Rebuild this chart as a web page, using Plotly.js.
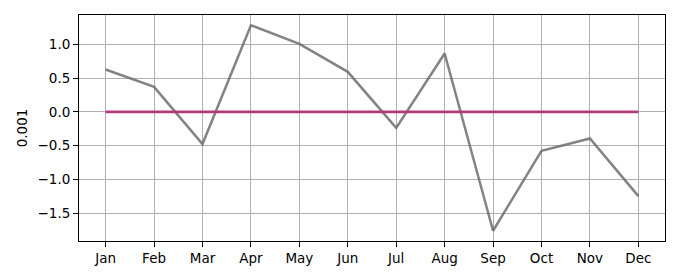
<!DOCTYPE html>
<html>
<head>
<meta charset="utf-8">
<script src="https://cdn.plot.ly/plotly-3.0.1.min.js"></script>
<style>html,body{margin:0;padding:0;background:#fff;}#chart{width:680px;height:280px;}</style>
</head>
<body>
<div id="chart"></div>
<script>
const months = ["Jan","Feb","Mar","Apr","May","Jun","Jul","Aug","Sep","Oct","Nov","Dec"];
const values = [0.628, 0.370, -0.478, 1.284, 1.007, 0.593, -0.237, 0.865, -1.763, -0.578, -0.394, -1.249];
const baseline = [0,0,0,0,0,0,0,0,0,0,0,0];
const yTicks = [-1.5, -1.0, -0.5, 0.0, 0.5, 1.0];
const yLabel = "0.001";

const font = {family: "DejaVu Sans, sans-serif", size: 13.5, color: "#000"};
const traces = [
  {x: months, y: values, type: "scatter", mode: "lines",
   line: {color: "rgba(100,100,100,0.8)", width: 2.5}, hoverinfo: "skip"},
  {x: months, y: baseline, type: "scatter", mode: "lines",
   line: {color: "#b03a7b", width: 2.8}, hoverinfo: "skip"}
];
const layout = {
  width: 680, height: 280,
  margin: {l: 79, r: 15, t: 15, b: 39, pad: 0},
  paper_bgcolor: "#fff", plot_bgcolor: "#fff",
  showlegend: false,
  font: font,
  xaxis: {
    type: "category", range: [-0.55, 11.55],
    showgrid: true, gridcolor: "#b0b0b0", gridwidth: 1,
    showline: true, linecolor: "#000", linewidth: 1, mirror: true,
    ticks: "outside", ticklen: 5, tickcolor: "#000", tickwidth: 1,
    tickfont: font, zeroline: false, automargin: false
  },
  yaxis: {
    range: [-1.915, 1.436],
    tickvals: yTicks, tickformat: ".1f",
    showgrid: true, gridcolor: "#b0b0b0", gridwidth: 1,
    showline: true, linecolor: "#000", linewidth: 1, mirror: true,
    ticks: "outside", ticklen: 5, tickcolor: "#000", tickwidth: 1,
    tickfont: font, zeroline: false, automargin: false,
    title: {text: yLabel, font: font, standoff: 6}
  }
};
Plotly.newPlot("chart", traces, layout, {staticPlot: true, displayModeBar: false});
</script>
</body>
</html>
